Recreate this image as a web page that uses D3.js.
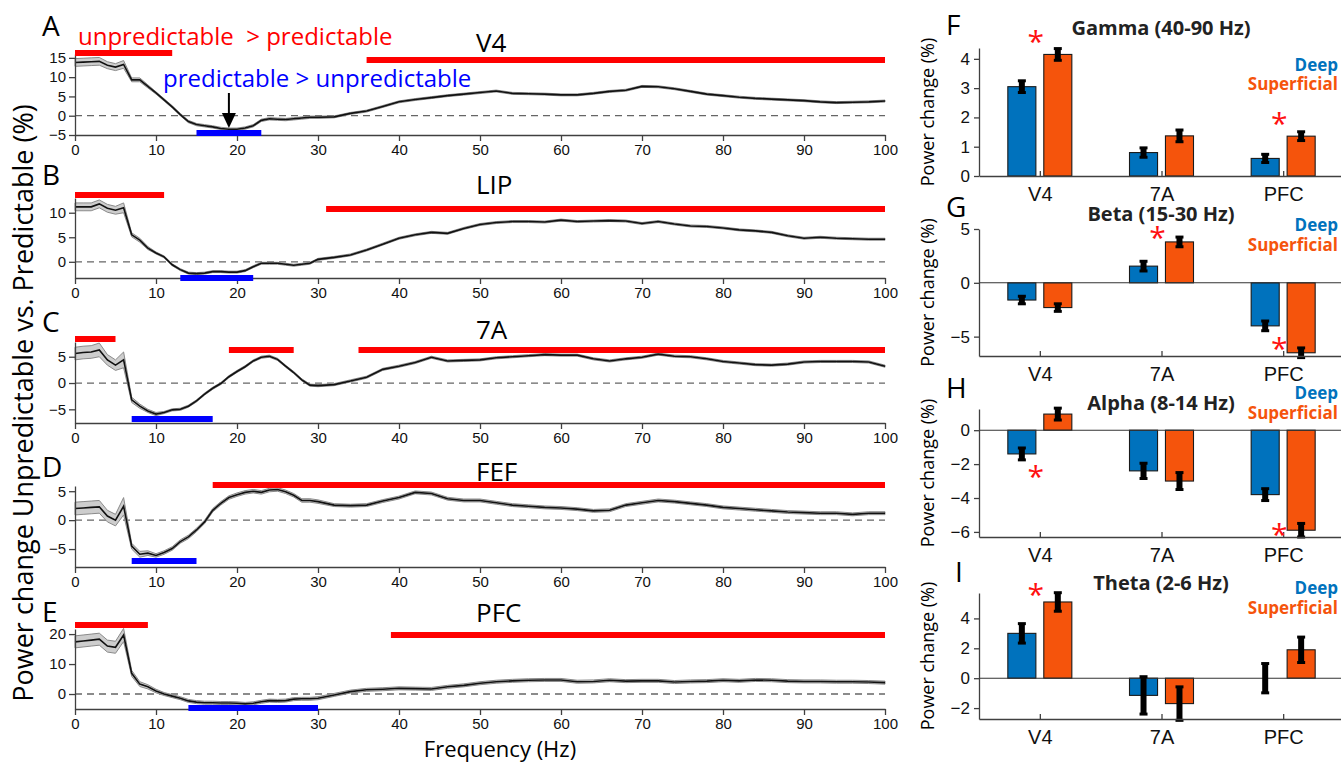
<!DOCTYPE html>
<html lang="en">
<head>
<meta charset="UTF-8">
<title>Power change: unpredictable vs predictable</title>
<script src="https://d3js.org/d3.v7.min.js"></script>
<style>
  body { margin: 0; background: white; }
  svg { display: block; font-family: "Open Sans", "Noto Sans", sans-serif; }
  .axis path, .axis line { stroke: #404040; stroke-width: 1.3px; }
  .axis text { fill: #111; }
</style>
</head>
<body>
<svg id="svg"></svg>
<script>
// ---- data: spectra (frequency grid, mean and SEM per area) ----
const freqs = [0,1,2,3,4,5,6,7,8,9,10,11,12,13,14,15,16,17,18,19,20,21,22,23,24,25,26,27,28,29,30,
  32,34,36,38,40,42,44,46,48,50,52,54,56,58,60,62,64,66,68,70,72,74,76,78,80,82,84,86,88,90,92,94,96,98,100];

const v4Mean = [13.8,13.9,14.0,14.1,13.1,12.6,13.3,9.3,9.3,7.6,5.9,4.1,2.3,0.3,-1.5,-2.3,-2.6,-2.9,-3.3,-3.5,-3.5,-3.2,-2.6,-1.2,-0.8,-0.9,-1.0,-0.8,-0.6,-0.4,-0.4,
  -0.3,0.6,1.2,2.4,3.6,4.2,4.7,5.2,5.6,6.0,6.4,5.8,5.7,5.6,5.4,5.4,5.8,6.3,6.6,7.6,7.5,7.0,6.3,5.6,5.2,4.8,4.5,4.3,4.1,3.9,3.6,3.4,3.5,3.6,3.8];
const v4Sem = [1.0,1.0,1.0,1.0,0.9,0.9,1.0,0.5,0.5,0.4,0.3,0.3,0.3,0.3,0.3,0.3,0.3,0.3,0.3,0.3,0.3,0.3,0.3,0.3,0.3,0.3,0.3,0.3,0.3,0.3,0.3,
  0.25,0.25,0.25,0.25,0.25,0.25,0.25,0.25,0.25,0.25,0.25,0.25,0.25,0.25,0.25,0.25,0.25,0.25,0.25,0.25,0.25,0.25,0.25,0.25,0.25,0.25,0.25,0.25,0.25,0.25,0.25,0.25,0.25,0.25,0.25];

const lipMean = [11.2,11.2,11.2,11.8,10.9,10.5,11.0,5.5,4.4,2.8,1.8,1.0,-0.6,-1.6,-2.3,-2.4,-2.3,-2.0,-2.0,-2.1,-2.1,-1.8,-1.0,-0.3,-0.3,-0.3,-0.5,-0.7,-0.5,-0.3,0.5,
  0.9,1.4,2.4,3.6,4.8,5.5,6.0,5.8,6.8,7.6,8.0,8.2,8.2,8.1,8.5,8.2,8.3,8.4,8.3,7.8,8.2,7.7,7.3,7.2,6.9,6.5,6.3,6.0,5.3,4.8,5.0,4.8,4.7,4.6,4.6];
const lipSem = [0.8,0.8,0.8,0.8,0.8,0.8,1.0,0.4,0.4,0.3,0.2,0.2,0.2,0.2,0.2,0.2,0.2,0.2,0.2,0.2,0.2,0.2,0.2,0.2,0.2,0.2,0.2,0.2,0.2,0.2,0.2,
  0.2,0.2,0.2,0.2,0.2,0.2,0.2,0.2,0.2,0.2,0.2,0.2,0.2,0.2,0.2,0.2,0.2,0.2,0.2,0.2,0.2,0.2,0.2,0.2,0.2,0.2,0.2,0.2,0.2,0.2,0.2,0.2,0.2,0.2,0.2];

const a7Mean = [5.6,5.8,5.9,6.3,4.4,3.4,4.4,-3.2,-4.4,-5.3,-5.9,-5.6,-5.1,-5.0,-4.4,-3.4,-2.1,-1.0,-0.1,1.2,2.2,3.1,4.2,4.9,5.1,4.5,3.2,2.0,0.6,-0.4,-0.5,
  -0.3,0.4,1.1,2.6,3.2,3.9,4.9,4.2,4.3,4.4,4.8,5.0,5.2,5.4,5.3,5.3,4.6,4.2,4.6,4.9,5.5,5.1,5.0,4.6,4.1,3.8,3.5,3.4,3.6,4.0,4.1,4.1,4.1,4.0,3.2];
const a7Sem = [1.2,1.2,1.2,1.3,1.0,1.0,1.5,0.5,0.4,0.3,0.3,0.2,0.2,0.2,0.2,0.2,0.2,0.2,0.2,0.2,0.2,0.2,0.2,0.2,0.2,0.2,0.2,0.2,0.2,0.2,0.2,
  0.2,0.2,0.2,0.2,0.2,0.2,0.2,0.2,0.2,0.2,0.2,0.2,0.2,0.2,0.2,0.2,0.2,0.2,0.2,0.2,0.2,0.2,0.2,0.2,0.2,0.2,0.2,0.2,0.2,0.2,0.2,0.2,0.2,0.2,0.2];

const fefMean = [2.0,2.1,2.2,2.3,0.7,0.0,2.4,-4.5,-5.9,-5.7,-6.1,-5.6,-4.9,-3.7,-2.9,-1.7,-0.3,1.7,2.9,3.9,4.4,4.8,5.0,4.8,5.2,5.3,4.9,4.3,3.4,3.4,3.2,
  2.6,2.5,2.6,3.3,3.9,4.8,4.6,3.7,3.4,3.4,3.0,2.6,2.4,2.2,2.1,1.9,1.6,1.7,2.6,3.0,3.4,3.2,2.9,2.6,2.2,2.0,1.8,1.6,1.4,1.3,1.2,1.2,1.0,1.2,1.2];
const fefSem = [1.1,1.1,1.1,1.1,1.0,1.0,1.5,0.5,0.5,0.4,0.3,0.3,0.3,0.3,0.3,0.3,0.3,0.3,0.3,0.3,0.3,0.3,0.3,0.3,0.3,0.3,0.3,0.3,0.3,0.3,0.3,
  0.25,0.25,0.25,0.25,0.25,0.25,0.25,0.25,0.25,0.25,0.25,0.25,0.25,0.25,0.25,0.25,0.25,0.25,0.25,0.25,0.25,0.25,0.25,0.25,0.25,0.25,0.25,0.25,0.25,0.25,0.25,0.25,0.25,0.25,0.25];

const pfcMean = [17.4,17.7,18.0,18.3,16.0,15.6,19.7,6.9,3.3,2.4,1.0,0.0,-0.7,-1.4,-2.3,-2.7,-2.9,-2.9,-3.0,-3.0,-3.1,-3.3,-3.1,-2.6,-2.2,-2.3,-2.2,-1.7,-1.6,-1.6,-1.4,
  -0.3,0.8,1.4,1.6,1.9,1.8,1.7,2.4,2.9,3.6,4.1,4.4,4.6,4.7,4.7,4.1,4.2,4.6,4.3,4.4,4.4,4.0,4.2,4.3,4.6,4.4,4.7,4.6,4.3,4.2,4.2,4.1,4.1,4.0,3.8];
const pfcSem = [2.0,2.0,2.0,2.0,2.0,2.0,2.2,1.0,0.8,0.7,0.6,0.5,0.5,0.5,0.5,0.5,0.5,0.5,0.5,0.5,0.5,0.5,0.5,0.5,0.5,0.5,0.5,0.5,0.5,0.5,0.5,
  0.5,0.5,0.5,0.5,0.5,0.5,0.5,0.5,0.5,0.5,0.5,0.5,0.5,0.5,0.5,0.5,0.5,0.5,0.5,0.5,0.5,0.5,0.5,0.5,0.5,0.5,0.5,0.5,0.5,0.5,0.5,0.5,0.5,0.5,0.5];

const areas = ["V4", "LIP", "7A", "FEF", "PFC"];
const means = [v4Mean, lipMean, a7Mean, fefMean, pfcMean];
const sems = [v4Sem, lipSem, a7Sem, fefSem, pfcSem];
// significant frequency ranges (Hz)
const sigRed = [[[0,12],[36,100]], [[0,11],[31,100]], [[0,5],[19,27],[35,100]], [[17,100]], [[0,9],[39,100]]];
const sigBlue = [[15,23], [13,22], [7,17], [7,15], [14,30]];
const xTicks = [0,10,20,30,40,50,60,70,80,90,100];
const yTicksLeft = [[-5,0,5,10,15], [0,5,10], [-5,0,5], [-5,0,5], [0,10,20]];

// ---- data: band-limited laminar power change ----
const categories = ["V4", "7A", "PFC"];
const layers = ["Deep", "Superficial"];
const bandNames = ["Gamma (40-90 Hz)", "Beta (15-30 Hz)", "Alpha (8-14 Hz)", "Theta (2-6 Hz)"];
const gammaDeep = [3.05, 0.8, 0.6],    gammaDeepErr = [0.2, 0.16, 0.14];
const gammaSup  = [4.15, 1.37, 1.36],  gammaSupErr  = [0.2, 0.2, 0.15];
const betaDeep  = [-1.6, 1.55, -4.0],  betaDeepErr  = [0.35, 0.45, 0.45];
const betaSup   = [-2.3, 3.8, -6.5],   betaSupErr   = [0.35, 0.45, 0.45];
const alphaDeep = [-1.4, -2.4, -3.8],  alphaDeepErr = [0.35, 0.45, 0.35];
const alphaSup  = [0.95, -3.0, -5.9],  alphaSupErr  = [0.35, 0.5, 0.4];
const thetaDeep = [3.0, -1.15, 0.0],   thetaDeepErr = [0.65, 1.25, 0.98];
const thetaSup  = [5.1, -1.7, 1.9],    thetaSupErr  = [0.62, 1.12, 0.85];
const yTicksRight = [[0,1,2,3,4], [-5,0,5], [-6,-4,-2,0], [-2,0,2,4]];
const stars = [
  [{cat: "V4", v: 4.78}, {cat: "PFC", v: 2.0}],
  [{cat: "7A", v: 4.8}, {cat: "PFC", v: -5.5}],
  [{cat: "V4", v: -2.35}, {cat: "PFC", v: -5.8}],
  [{cat: "V4", v: 6.0}]
];

// ---- layout ----
const W = 1341, H = 762;
const svg = d3.select("#svg").attr("width", W).attr("height", H);
svg.append("rect").attr("width", W).attr("height", H).attr("fill", "white");

const leftLayout = [
  {top: 54,  bottom: 135, dom: [-5, 16],    redY: [53, 60],        blueY: 133, letter: "A", letterY: 36,  titleY: 52},
  {top: 198, bottom: 278, dom: [-3.3, 13],  redY: [195, 209],      blueY: 278, letter: "B", letterY: 185, titleY: 194},
  {top: 342, bottom: 423, dom: [-7.6, 7.8], redY: [339, 350, 350], blueY: 419, letter: "C", letterY: 332, titleY: 339},
  {top: 486, bottom: 567, dom: [-8.1, 5.9], redY: [485],           blueY: 561, letter: "D", letterY: 477, titleY: 481},
  {top: 629, bottom: 709, dom: [-5, 21.7],  redY: [625, 635],      blueY: 708, letter: "E", letterY: 622, titleY: 622}
];

const x = d3.scaleLinear().domain([0, 100]).range([75, 885]);

areas.forEach((name, i) => {
  const L = leftLayout[i];
  const y = d3.scaleLinear().domain(L.dom).range([L.bottom, L.top]);
  const g = svg.append("g");
  const pts = freqs.map((f, j) => ({f: f, m: means[i][j], s: sems[i][j]}));

  g.append("line")
    .attr("x1", x(0)).attr("x2", x(100))
    .attr("y1", y(0)).attr("y2", y(0))
    .attr("stroke", "#666").attr("stroke-width", 1.3)
    .attr("stroke-dasharray", "7,5");

  g.append("path").datum(pts)
    .attr("d", d3.area().x(d => x(d.f)).y0(d => y(d.m - d.s)).y1(d => y(d.m + d.s)))
    .attr("fill", "#cdcdcd").attr("stroke", "#8a8a8a").attr("stroke-width", 1);

  g.append("path").datum(pts)
    .attr("d", d3.line().x(d => x(d.f)).y(d => y(d.m)))
    .attr("fill", "none").attr("stroke", "#111").attr("stroke-width", 1.6);

  g.append("g").attr("class", "axis")
    .attr("transform", `translate(0,${L.bottom})`)
    .call(d3.axisBottom(x).tickValues(xTicks).tickSize(6).tickSizeOuter(0).tickPadding(3))
    .selectAll("text").style("font-size", "15px");

  g.append("g").attr("class", "axis")
    .attr("transform", `translate(${x(0)},0)`)
    .call(d3.axisLeft(y).tickValues(yTicksLeft[i]).tickSize(6).tickSizeOuter(0).tickPadding(3))
    .selectAll("text").style("font-size", "15px");

  sigRed[i].forEach((r, k) => {
    g.append("line")
      .attr("x1", x(r[0])).attr("x2", x(r[1]))
      .attr("y1", L.redY[k]).attr("y2", L.redY[k])
      .attr("stroke", "#ff0000").attr("stroke-width", 6);
  });
  g.append("line")
    .attr("x1", x(sigBlue[i][0])).attr("x2", x(sigBlue[i][1]))
    .attr("y1", L.blueY).attr("y2", L.blueY)
    .attr("stroke", "#0000ff").attr("stroke-width", 6);

  g.append("text").attr("x", 42).attr("y", L.letterY)
    .style("font-size", "28px").text(L.letter);
  g.append("text").attr("x", 476).attr("y", L.titleY)
    .style("font-size", "26px").text(name);

  if (i === 0) {
    g.append("text").attr("x", 78).attr("y", 45)
      .attr("fill", "#ff0000").style("font-size", "24px")
      .attr("xml:space", "preserve")
      .text("unpredictable  > predictable");
    g.append("text").attr("x", 163).attr("y", 87)
      .attr("fill", "#0000ff").style("font-size", "24px")
      .text("predictable > unpredictable");
    const ax = x(19);
    g.append("line").attr("x1", ax).attr("x2", ax).attr("y1", 93).attr("y2", 116)
      .attr("stroke", "black").attr("stroke-width", 2);
    g.append("path")
      .attr("d", `M${ax},128 L${ax - 7},113 L${ax + 7},113 Z`)
      .attr("fill", "black");
  }
});

svg.append("text")
  .attr("transform", "translate(33,403) rotate(-90)")
  .attr("text-anchor", "middle")
  .style("font-size", "27px")
  .text("Power change Unpredictable vs. Predictable (%)");

svg.append("text")
  .attr("x", 500).attr("y", 757)
  .attr("text-anchor", "middle")
  .style("font-size", "22px")
  .text("Frequency (Hz)");

// ---- right bar panels ----
const bandData = [
  [gammaDeep, gammaDeepErr, gammaSup, gammaSupErr],
  [betaDeep, betaDeepErr, betaSup, betaSupErr],
  [alphaDeep, alphaDeepErr, alphaSup, alphaSupErr],
  [thetaDeep, thetaDeepErr, thetaSup, thetaSupErr]
];
const rightLayout = [
  {top: 48,  bottom: 176, dom: [0, 4.37],    letter: "F", letterX: 946, letterY: 35,  titleY: 35,  deepY: 71,  supY: 90},
  {top: 229, bottom: 356, dom: [-6.8, 5],    letter: "G", letterX: 946, letterY: 217, titleY: 221, deepY: 231, supY: 251},
  {top: 409, bottom: 537, dom: [-6.3, 1.25], letter: "H", letterX: 946, letterY: 398, titleY: 410, deepY: 399, supY: 419},
  {top: 593, bottom: 719, dom: [-2.73, 5.7], letter: "I", letterX: 955, letterY: 582, titleY: 590, deepY: 594, supY: 614}
];
const layerColor = {Deep: "#0072bd", Superficial: "#f5540c"};
const xc = d3.scalePoint().domain(categories).range([979, 1344]).padding(0.5);
const xs = d3.scaleBand().domain(layers).range([-32, 32]).paddingInner(0.22);

bandNames.forEach((band, b) => {
  const L = rightLayout[b];
  const y = d3.scaleLinear().domain(L.dom).range([L.bottom, L.top]);
  const g = svg.append("g");
  const [dv, de, sv, se] = bandData[b];
  const rows = [];
  categories.forEach((c, k) => {
    rows.push({cat: c, layer: "Deep", v: dv[k], e: de[k]});
    rows.push({cat: c, layer: "Superficial", v: sv[k], e: se[k]});
  });

  g.selectAll(".bar").data(rows).join("rect")
    .attr("class", "bar")
    .attr("x", d => xc(d.cat) + xs(d.layer))
    .attr("width", xs.bandwidth())
    .attr("y", d => Math.min(y(d.v), y(0)))
    .attr("height", d => Math.abs(y(d.v) - y(0)))
    .attr("fill", d => layerColor[d.layer])
    .attr("stroke", "#1a1a1a").attr("stroke-width", 1.1);

  if (L.dom[0] < 0) {
    g.append("line").attr("x1", 979).attr("x2", W)
      .attr("y1", y(0)).attr("y2", y(0))
      .attr("stroke", "#333").attr("stroke-width", 1.1);
  }

  const eb = g.selectAll(".err").data(rows).join("g").attr("class", "err");
  const cx = d => xc(d.cat) + xs(d.layer) + xs.bandwidth() / 2;
  eb.append("line")
    .attr("x1", cx).attr("x2", cx)
    .attr("y1", d => y(d.v - d.e)).attr("y2", d => y(d.v + d.e))
    .attr("stroke", "black").attr("stroke-width", 6);
  [-1, 1].forEach(sgn => {
    eb.append("line")
      .attr("x1", d => cx(d) - 4).attr("x2", d => cx(d) + 4)
      .attr("y1", d => y(d.v + sgn * d.e)).attr("y2", d => y(d.v + sgn * d.e))
      .attr("stroke", "black").attr("stroke-width", 3);
  });

  g.append("g").attr("class", "axis")
    .attr("transform", `translate(979,0)`)
    .call(d3.axisLeft(y).tickValues(yTicksRight[b]).tickFormat(d3.format("d"))
      .tickSize(5).tickSizeOuter(0).tickPadding(4))
    .selectAll("text").style("font-size", "17px");

  g.append("g").attr("class", "axis")
    .attr("transform", `translate(0,${L.bottom})`)
    .call(d3.axisBottom(xc).tickSize(-5).tickSizeOuter(0).tickPadding(11))
    .selectAll("text").style("font-size", "20px");

  g.selectAll(".star").data(stars[b]).join("text")
    .attr("class", "star")
    .attr("x", d => xc(d.cat) - 4)
    .attr("y", d => y(d.v))
    .attr("dy", "0.55em")
    .attr("text-anchor", "middle")
    .attr("fill", "#ff1010")
    .style("font-size", "30px")
    .text("*");

  g.append("text").attr("x", L.letterX).attr("y", L.letterY)
    .style("font-size", "28px").text(L.letter);
  g.append("text").attr("x", 1161).attr("y", L.titleY)
    .attr("text-anchor", "middle")
    .attr("fill", "#222")
    .style("font-size", "20px").style("font-weight", "bold")
    .text(band);
  g.append("text").attr("x", 1338).attr("y", L.deepY)
    .attr("text-anchor", "end").attr("fill", layerColor.Deep)
    .style("font-size", "17px").style("font-weight", "bold").text("Deep");
  g.append("text").attr("x", 1338).attr("y", L.supY)
    .attr("text-anchor", "end").attr("fill", layerColor.Superficial)
    .style("font-size", "17px").style("font-weight", "bold").text("Superficial");

  g.append("text")
    .attr("transform", `translate(934,${(L.top + L.bottom) / 2}) rotate(-90)`)
    .attr("text-anchor", "middle")
    .style("font-size", "18px")
    .text("Power change (%)");
});
</script>
</body>
</html>
